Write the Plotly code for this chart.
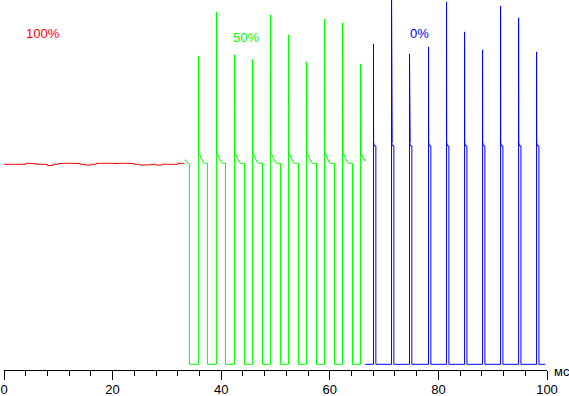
import plotly.graph_objects as go

# ---------------- data (time in ms, signal level in % of the 100% level) ----------------
RED_T = [0, 1, 2, 3, 4, 5, 6, 7, 8, 9, 10, 11, 12, 13, 14, 15, 16, 17, 18, 19, 20,
         21, 22, 23, 24, 25, 26, 27, 28, 29, 30, 31, 32, 33, 33.17]
RED_V = [100, 100, 100, 100, 100.5, 100.3, 100, 100, 99.4, 100, 100.4, 100.5, 100.5,
         100.4, 100, 99.6, 100, 100.5, 100.5, 100.5, 100.4, 100.5, 100.5, 100.4, 100,
         99.6, 99.7, 100, 99.6, 100, 100, 100, 100.5, 100.4, 100.2]

# 50 % : lead-in segment, then pulses
GREEN_LEAD_T = [33.22, 33.59, 33.96, 34.14]
GREEN_LEAD_V = [102.2, 101.6, 100.5, 100.3]
GREEN_RISE = [35.80, 39.12, 42.44, 45.75, 49.07, 52.39, 55.70, 59.02, 62.34, 65.65]
GREEN_PEAK = [154.2, 176.2, 154.7, 152.5, 174.7, 164.7, 151.2, 172.7, 170.7, 150.2]
GREEN_SECOND = [None, None, None, None, None, None, None, None, 111.3, 134.0]
GREEN_FALL = [37.46, 40.78, 44.28, 47.60, 50.91, 54.23, 57.55, 60.86, 64.18]
GREEN_PLAT_DT = [0.0, 0.18, 0.37, 0.55, 0.74, 0.92, 1.29]
GREEN_PLAT_V = [106.3, 105.2, 103.8, 102.5, 101.7, 100.8, 100.5]
GREEN_END = (66.57, 103.0)

# 0 % : pulses
BLUE_START_T = 66.52
BLUE_RISE = [68.05, 71.37, 74.68, 78.18, 81.50, 84.82, 88.13, 91.45, 94.77, 98.08]
BLUE_PEAK = [160.2, 186.0, 155.2, 158.7, 181.2, 166.2, 157.2, 179.2, 173.2, 156.2]
BLUE_SECOND = [None, 114.7, 130.6, None, None, None, None, None, None, None]
BLUE_FALL = [68.48, 71.80, 75.11, 78.61, 81.93, 85.25, 88.56, 91.88, 95.20, 98.51]
BLUE_PLAT_DT = [0.0, 0.18]
BLUE_PLAT_V = [110.8, 109.2]
BLUE_END_T = 99.69

LOW = 0.0
TICKS = [0, 20, 40, 60, 80, 100]
LABELS = ["100%", "50%", "0%"]


def add_pulse(xs, ys, tr, peak, second, plat_dt, plat_v, stop_t, stop_v, falls):
    xs += [tr, tr]
    ys += [LOW, peak]
    if second is not None:
        xs += [tr + 0.03, tr + 0.09, tr + 0.12]
        ys += [plat_v[0], second, plat_v[0]]
    for dt, v in zip(plat_dt, plat_v):
        if tr + dt < stop_t:
            xs.append(tr + max(dt, 0.02))
            ys.append(v)
    xs.append(stop_t)
    ys.append(stop_v if stop_v is not None else plat_v[-1])
    if falls:
        xs.append(stop_t)
        ys.append(LOW)


# green polyline
gx = list(GREEN_LEAD_T)
gy = list(GREEN_LEAD_V)
gx.append(GREEN_LEAD_T[-1])
gy.append(LOW)
for i, tr in enumerate(GREEN_RISE):
    if i < len(GREEN_FALL):
        add_pulse(gx, gy, tr, GREEN_PEAK[i], GREEN_SECOND[i], GREEN_PLAT_DT,
                  GREEN_PLAT_V, GREEN_FALL[i], None, True)
    else:
        add_pulse(gx, gy, tr, GREEN_PEAK[i], GREEN_SECOND[i], GREEN_PLAT_DT,
                  GREEN_PLAT_V, GREEN_END[0], GREEN_END[1], False)

# blue polyline
bx = [BLUE_START_T]
by = [LOW]
for i, tr in enumerate(BLUE_RISE):
    add_pulse(bx, by, tr, BLUE_PEAK[i], BLUE_SECOND[i], BLUE_PLAT_DT,
              BLUE_PLAT_V, BLUE_FALL[i], None, True)
bx.append(BLUE_END_T)
by.append(LOW)

fig = go.Figure()
fig.add_trace(go.Scatter(x=RED_T, y=RED_V, mode="lines", line_shape="hv",
                         line=dict(color="#FF0000", width=1), hoverinfo="skip"))
fig.add_trace(go.Scatter(x=gx, y=gy, mode="lines",
                         line=dict(color="#00FF00", width=1), hoverinfo="skip"))
fig.add_trace(go.Scatter(x=bx, y=by, mode="lines",
                         line=dict(color="#0000FF", width=1), hoverinfo="skip"))

font = "Liberation Sans, Arial, sans-serif"
fig.update_layout(
    width=569, height=396,
    margin=dict(l=4, r=22.3, t=0, b=26, pad=0, autoexpand=False),
    paper_bgcolor="white", plot_bgcolor="white",
    showlegend=False,
    xaxis=dict(range=[0, 100], tickvals=TICKS, ticktext=[str(t) for t in TICKS],
               automargin=False, ticklabelstandoff=-2,
               ticks="outside", ticklen=9, tickwidth=1, tickcolor="black",
               showline=True, linecolor="black", linewidth=1,
               showgrid=False, zeroline=False,
               tickfont=dict(family=font, size=13, color="black"),
               minor=dict(dtick=4, tick0=0, ticks="outside", ticklen=5,
                          tickcolor="black", tickwidth=1, showgrid=False)),
    yaxis=dict(range=[-2.85, 182.15], visible=False, automargin=False),
    annotations=[
        dict(x=7.09, y=165.6, xref="x", yref="y", text=LABELS[0], showarrow=False,
             font=dict(family=font, size=13, color="#FF0000")),
        dict(x=44.5, y=163.6, xref="x", yref="y", text=LABELS[1], showarrow=False,
             font=dict(family=font, size=13, color="#00FF00")),
        dict(x=76.47, y=165.5, xref="x", yref="y", text=LABELS[2], showarrow=False,
             font=dict(family=font, size=13, color="#0000FF")),
        dict(x=1.028, y=-0.005, xref="paper", yref="paper", text="мс", showarrow=False,
             xanchor="center", yanchor="middle",
             font=dict(family=font, size=13, color="black")),
    ],
)

fig.write_html("out.html")
